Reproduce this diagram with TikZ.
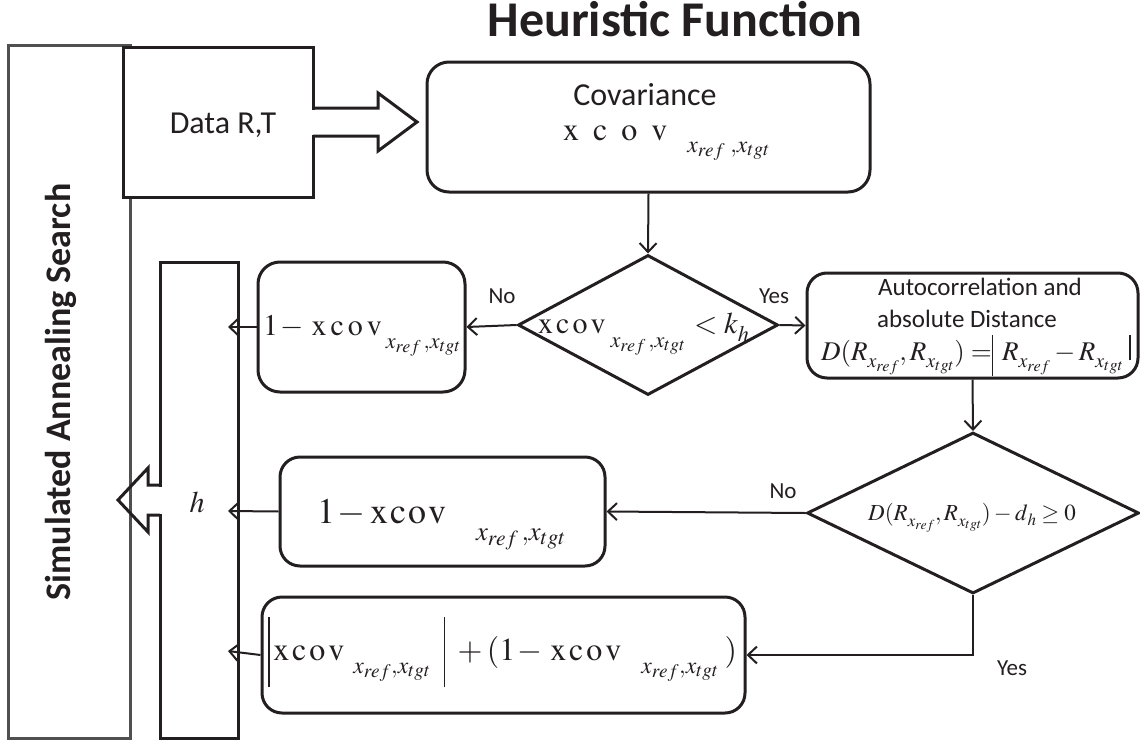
\documentclass[tikz,border=0pt]{standalone}
\usepackage{mathptmx}
\usepackage[no-math]{fontspec}
\setmainfont{Carlito}
\usetikzlibrary{arrows.meta,shapes.geometric}
\definecolor{ink}{HTML}{231F20}
\definecolor{sagray}{HTML}{505050}
\newcommand{\xc}[1]{\mathrm{x\kern#1c\kern#1o\kern#1v}}
\newcommand{\dn}[2]{\lower#1\hbox{$\scriptstyle#2$}}
\begin{document}
\begin{tikzpicture}[x=1pt,y=-1pt,
  rbox/.style={draw=ink,line width=3pt,rounded corners=22pt,inner sep=0pt,fill=white},
  sbox/.style={draw=ink,line width=3pt,inner sep=0pt,fill=white},
  dia/.style={draw=ink,line width=3pt,shape=diamond,inner sep=0pt},
  arr/.style={draw=ink,line width=2pt,-{Straight Barb[length=9pt,width=17pt]}},
  lab/.style={text=ink,inner sep=0pt,anchor=base,font=\fontsize{23}{27}\selectfont},
  txt/.style={text=ink,inner sep=0pt,anchor=base,font=\fontsize{32}{36}\selectfont},
  mth/.style={text=ink,inner sep=0pt,anchor=base,font=\fontsize{#1}{#1}\selectfont}]
\useasboundingbox (0,0) rectangle (1140,744);

% title
\node[text=ink,inner sep=0pt,anchor=base,font=\bfseries\fontsize{50}{58}\selectfont] (title) at (675,36) {Heuristic Function};

% simulated annealing box
\node[draw=sagray,line width=3pt,inner sep=0pt,minimum width=122pt,minimum height=693pt] (sa) at (69,391.5) {};
\node[text=ink,inner sep=0pt,rotate=90,font=\bfseries\fontsize{36}{40}\selectfont] (saT) at (61,392) {Simulated Annealing Search};

% data box with block arrow
\node[sbox,minimum width=190pt,minimum height=150pt] (data) at (218,122) {};
\node[txt] (dataT) at (223,133) {Data R,T};
\fill[white] (310,109.5) rectangle (316,134.5);
\draw[ink,line width=3pt] (313,108) -- (378,108) -- (378,93) -- (417,122) -- (378,151) -- (378,136) -- (313,136);

% h bar with block arrow
\node[sbox,minimum width=78pt,minimum height=476pt] (hbar) at (199,500) {};
\fill[white] (157,486.5) rectangle (163,513.5);
\draw[ink,line width=3pt] (160,485) -- (148,485) -- (148,468) -- (118,500) -- (148,532) -- (148,515) -- (160,515);
\node[mth=30] (hlab) at (197,512) {$h$};

% covariance box
\node[rbox,minimum width=443pt,minimum height=130pt] (cov) at (648.5,127) {};
\node[txt] (covT) at (645,105) {Covariance};
\node[mth=32,anchor=base west] (covF) at (563,140) {$\xc{14pt}\kern20pt\dn{12pt}{x_{ref}\;,x_{tgt}}$};

% decision 1
\node[dia,minimum width=260pt,minimum height=140pt] (d1) at (648,325) {};
\node[mth=30,anchor=base west] (d1F) at (538,333) {$\xc{3pt}\kern5pt\dn{14pt}{x_{ref}\,,x_{tgt}}\kern2pt< k\dn{8pt}{h}$};

% left box
\node[rbox,minimum width=207pt,minimum height=130pt] (lbox) at (361.5,327) {};
\node[mth=30,anchor=base west] (lboxF) at (263,335) {$1\kern2pt{-}\kern8pt\xc{4pt}\kern4pt\dn{13pt}{x_{ref}\,,x_{tgt}}$};

% autocorrelation box
\node[rbox,rounded corners=20pt,minimum width=331pt,minimum height=105pt] (abox) at (972.5,325.5) {};
\node[lab,font=\fontsize{25}{30}\selectfont] (aT1) at (980,295) {Autocorrelation and};
\node[lab,font=\fontsize{25}{30}\selectfont] (aT2) at (967,327) {absolute Distance};
\node[mth=27] (aF) at (976,360) {$D(R\dn{7pt}{x_{ref}}, R\dn{7pt}{x_{tgt}}) = \vrule width 1.3pt height 25pt depth 16pt\, R\dn{7pt}{x_{ref}} - R\dn{7pt}{x_{tgt}}\;\vrule width 1.6pt height 25pt depth 0pt$};

% decision 2
\node[dia,minimum width=332pt,minimum height=161pt] (d2) at (973,513) {};
\node[mth=23] (d2F) at (972,520) {$D(R\dn{6pt}{x_{ref}}, R\dn{6pt}{x_{tgt}}) - d\dn{5pt}{h} \geq 0$};

% middle box
\node[rbox,rounded corners=20pt,minimum width=325pt,minimum height=109pt] (mbox) at (442.5,511.5) {};
\node[mth=36,anchor=base west] (mboxF) at (317,523) {$1\kern2pt{-}\kern5pt\xc{2pt}\kern30pt\dn{17pt}{x_{ref}\,,x_{tgt}}$};

% bottom box
\node[rbox,rounded corners=20pt,minimum width=483pt,minimum height=116pt] (bbox) at (503.5,655) {};
\node[mth=32,anchor=base west] (bboxF) at (268,660) {$\vrule width 1.5pt height 43pt depth 27pt\,\xc{3pt}\kern9pt\dn{13pt}{x_{ref},x_{tgt}}\kern13pt\vrule width 1.5pt height 43pt depth 27pt\kern8pt + (1\kern2pt{-}\kern8pt\xc{3pt}\kern20pt\dn{13pt}{x_{ref},x_{tgt}}\kern6pt)$};

% free ends on the h bar
\coordinate (h1) at (228,327);
\coordinate (h2) at (228,511);
\coordinate (h3) at (228,651);

% connectors
\draw[arr] (cov.south) -- (d1.north);
\draw[arr] (d1.west) -- (lbox.east);
\draw[arr] (d1.east) -- (abox.west);
\draw[arr] (abox.south) -- (d2.north);
\draw[arr] (d2.west) -- (mbox.east);
\draw[arr] (d2.south) |- (bbox.east);
\draw[arr] (lbox.west) -- (h1);
\draw[arr] (mbox.west) -- (h2);
\draw[arr] (bbox.west) -- (h3);

% labels
\node[lab] (no1) at (502,303) {No};
\node[lab] (yes1) at (774,303) {Yes};
\node[lab] (no2) at (783,498) {No};
\node[lab] (yes2) at (1012,675) {Yes};
\end{tikzpicture}
\end{document}
